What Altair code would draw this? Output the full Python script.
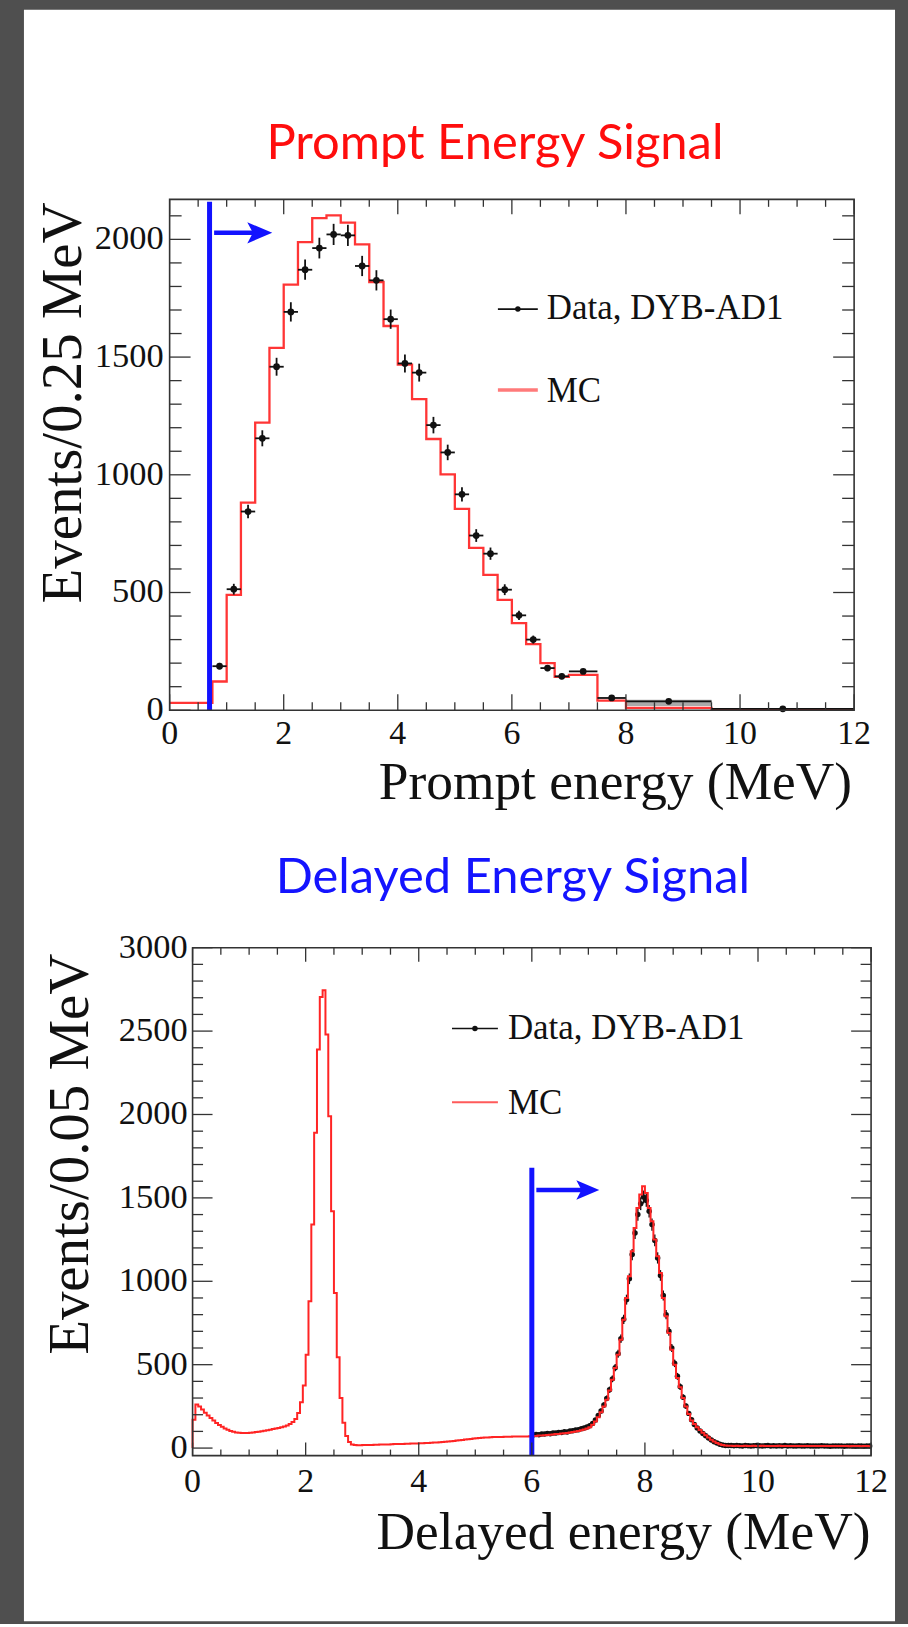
import altair as alt
import numpy as np
import pandas as pd

# ---------------------------------------------------------------------------
# Prompt energy spectrum (Events / 0.25 MeV, wider bins at high energy)
# ---------------------------------------------------------------------------
prompt_mc_edges = [0.0, 0.75, 1.0, 1.25, 1.5, 1.75, 2.0, 2.25, 2.5, 2.75, 3.0,
                   3.25, 3.5, 3.75, 4.0, 4.25, 4.5, 4.75, 5.0, 5.25, 5.5, 5.75,
                   6.0, 6.25, 6.5, 6.75, 7.0, 7.5, 8.0, 9.5, 12.0]
prompt_mc_counts = [31, 122, 490, 882, 1222, 1539, 1808, 1988, 2090, 2102,
                    2071, 1979, 1819, 1632, 1468, 1321, 1152, 1002, 855, 690,
                    575, 469, 370, 281, 200, 142, 150, 41, 10, 3]

prompt_data_edges = [0.75, 1.0, 1.25, 1.5, 1.75, 2.0, 2.25, 2.5, 2.75, 3.0,
                     3.25, 3.5, 3.75, 4.0, 4.25, 4.5, 4.75, 5.0, 5.25, 5.5,
                     5.75, 6.0, 6.25, 6.5, 6.75, 7.0, 7.5, 8.0, 9.5, 12.0]
prompt_data_counts = [187, 514, 844, 1155, 1459, 1692, 1871, 1963, 2021, 2017,
                      1887, 1826, 1661, 1473, 1434, 1211, 1095, 917, 742, 665,
                      512, 403, 300, 179, 144, 165, 52, 38, 6]
prompt_data_errors = [14, 23, 29, 34, 38, 41, 43, 44, 45, 45,
                      43, 43, 41, 38, 38, 35, 33, 30, 27, 26,
                      23, 20, 17, 13, 12, 9, 5, 3, 1]
prompt_band = {"lo": [8.0], "hi": [9.5], "bottom": [18], "top": [45]}

prompt_cut = 0.7
prompt_arrow = {"x0": 0.78, "x1": 1.58, "y": 2028}

# ---------------------------------------------------------------------------
# Delayed energy spectrum (Events / 0.05 MeV)
# ---------------------------------------------------------------------------
delayed_bin = 0.05
delayed_mc_counts = [
    170, 262, 250, 232, 212, 195, 180, 165, 150, 138, 128, 118, 110, 103, 98, 94, 92, 91, 90, 91,
    92, 94, 96, 98, 101, 104, 107, 110, 114, 117, 121, 125, 130, 136, 144, 156, 175, 210, 275, 375,
    560, 880, 1340, 1890, 2390, 2705, 2745, 2480, 1990, 1420, 930, 545, 300, 152, 72, 36, 22, 18, 17, 17,
    18, 18, 19, 19, 20, 20, 21, 21, 22, 22, 23, 24, 24, 25, 25, 26, 26, 27, 27, 28,
    29, 29, 30, 31, 32, 33, 34, 35, 37, 38, 40, 41, 43, 45, 47, 49, 51, 53, 55, 57,
    59, 61, 62, 63, 64, 65, 66, 66, 67, 67, 68, 68, 68, 69, 69, 69, 70, 70, 70, 71,
    72, 73, 75, 76, 77, 79, 80, 82, 84, 85, 87, 89, 91, 93, 96, 99, 103, 107, 112, 118,
    125, 140, 160, 185, 215, 250, 290, 345, 410, 480, 560, 650, 770, 900, 1030, 1180, 1320, 1440, 1520, 1570,
    1530, 1440, 1360, 1250, 1150, 1050, 900, 790, 690, 590, 500, 420, 365, 300, 250, 205, 165, 145, 125, 108,
    92, 77, 63, 50, 39, 30, 23, 18, 15, 14, 14, 13, 14, 13, 13, 14, 13, 13, 14, 13,
    13, 14, 13, 13, 12, 13, 13, 14, 13, 12, 13, 13, 12, 13, 13, 12, 13, 12, 13, 12,
    12, 13, 12, 12, 13, 12, 12, 12, 13, 12, 12, 12, 11, 12, 12, 12, 11, 12, 12, 11,
]
delayed_data_start = 6.0
delayed_data_counts = [
    78, 82, 80, 85, 84, 88, 86, 91, 90, 94, 93, 98, 97, 102, 104, 108, 110, 116, 120, 126,
    134, 148, 168, 196, 222, 258, 298, 350, 415, 482, 566, 655, 772, 890, 1015, 1160, 1290, 1400, 1465, 1505,
    1485, 1420, 1340, 1245, 1140, 1035, 915, 800, 700, 600, 508, 430, 368, 305, 252, 208, 170, 142, 120, 102,
    88, 74, 60, 48, 38, 30, 23, 19, 16, 15, 15, 14, 15, 14, 13, 15, 14, 13, 14, 15,
    14, 13, 14, 15, 13, 14, 12, 14, 13, 15, 13, 14, 12, 13, 14, 13, 12, 14, 13, 12,
    13, 12, 14, 12, 13, 11, 13, 12, 13, 12, 11, 13, 12, 12, 11, 13, 12, 11, 12, 12,
]
delayed_cut = 6.0
delayed_cut_top = 1680
delayed_arrow = {"x0": 6.08, "x1": 6.99, "y": 1547}

# axis ticks and their labels
x_major = [0, 2, 4, 6, 8, 10, 12]
x_minor = [0.5 * k for k in range(1, 24) if k % 4]
y1_major = [0, 500, 1000, 1500, 2000]
y1_minor = [100 * k for k in range(1, 22) if k % 5]
y2_major = [0, 500, 1000, 1500, 2000, 2500, 3000]
y2_minor = [100 * k for k in range(1, 30) if k % 5]

# ---------------------------------------------------------------------------
# styling
# ---------------------------------------------------------------------------
SERIF = "Liberation Serif"
SANS = "Lato"
INK = "#111111"
FRAME = "#333333"
MC_RED = "#ff3535"
CUT_BLUE = "#1212ff"
ARROW_HEAD = "M-1,-0.85L1,0L-1,0.85L-0.55,0Z"

W1, H1 = 686, 512
W2, H2 = 703, 509
X2_LEFT = 23

one = pd.DataFrame({"k": [0]})


def edge_ticks(values, scale, channel, start, end):
    base = alt.Chart(pd.DataFrame({"t": values})).mark_rule(color=FRAME, strokeWidth=1.3)
    if channel == "x":
        return base.encode(x=alt.X("t:Q", scale=scale, axis=None),
                           y=alt.value(start), y2=alt.value(end))
    return base.encode(y=alt.Y("t:Q", scale=scale, axis=None),
                       x=alt.value(start), x2=alt.value(end))


def frame_ticks(xs, ys, x_left, x_right, height, y_vals, xlen, ylen):
    (xmaj_b, xmin_b, xmaj_t, xmin_t) = xlen
    (ymaj, ymin) = ylen
    ymaj_vals, ymin_vals = y_vals
    return [
        edge_ticks(x_major, xs, "x", height, height - xmaj_b),
        edge_ticks(x_minor, xs, "x", height, height - xmin_b),
        edge_ticks(x_major, xs, "x", 0, xmaj_t),
        edge_ticks(x_minor, xs, "x", 0, xmin_t),
        edge_ticks(ymaj_vals, ys, "y", x_left, x_left + ymaj),
        edge_ticks(ymin_vals, ys, "y", x_left, x_left + ymin),
        edge_ticks(ymaj_vals, ys, "y", x_right, x_right - ymaj),
        edge_ticks(ymin_vals, ys, "y", x_right, x_right - ymin),
    ]


def axis_labels(xs, ys, y_values, x_label_y, y_label_x, x_title, x_title_pos,
                y_title, y_title_pos):
    """Tick labels and axis titles for one panel, placed through its scales."""
    xl = pd.DataFrame({"t": x_major, "s": [str(v) for v in x_major]})
    yl = pd.DataFrame({"t": y_values, "s": [str(v) for v in y_values]})
    return [
        alt.Chart(xl).mark_text(font=SERIF, fontSize=34, color=INK, align="center",
                                baseline="alphabetic").encode(
            x=alt.X("t:Q", scale=xs, axis=None), y=alt.value(x_label_y), text="s:N"),
        alt.Chart(yl).mark_text(font=SERIF, fontSize=34.5, color=INK, align="right",
                                baseline="middle").encode(
            y=alt.Y("t:Q", scale=ys, axis=None), x=alt.value(y_label_x), text="s:N"),
        alt.Chart(one).mark_text(text=x_title, font=SERIF, fontSize=53.5, color=INK,
                                 align="right", baseline="alphabetic").encode(
            x=alt.value(x_title_pos[0]), y=alt.value(x_title_pos[1])),
        alt.Chart(one).mark_text(text=y_title, font=SERIF, fontSize=57, color=INK,
                                 align="right", baseline="alphabetic", angle=270).encode(
            x=alt.value(y_title_pos[0]), y=alt.value(y_title_pos[1])),
    ]


def legend(x0, x1, y_data, y_mc, text_x, mc_color, mc_width):
    dot_x = (x0 + x1) / 2
    return [
        alt.Chart(one).mark_rule(color=INK, strokeWidth=1.6).encode(
            x=alt.value(x0), x2=alt.value(x1), y=alt.value(y_data)),
        alt.Chart(one).mark_point(filled=True, color=INK, size=30, opacity=1).encode(
            x=alt.value(dot_x), y=alt.value(y_data)),
        alt.Chart(one).mark_text(text="Data, DYB-AD1", font=SERIF, fontSize=35,
                                 align="left", baseline="alphabetic", color=INK).encode(
            x=alt.value(text_x), y=alt.value(y_data + 10)),
        alt.Chart(one).mark_rule(color=mc_color, strokeWidth=mc_width).encode(
            x=alt.value(x0), x2=alt.value(x1), y=alt.value(y_mc)),
        alt.Chart(one).mark_text(text="MC", font=SERIF, fontSize=35, align="left",
                                 baseline="alphabetic", color=INK).encode(
            x=alt.value(text_x), y=alt.value(y_mc + 12)),
    ]


# ---------------------------------------------------------------------------
# upper panel: prompt energy
# ---------------------------------------------------------------------------
xs1 = alt.Scale(domain=[0, 12], nice=False)
ys1 = alt.Scale(domain=[0, 2170], nice=False)

mc1 = pd.DataFrame({"e": prompt_mc_edges,
                    "c": prompt_mc_counts + [prompt_mc_counts[-1]]})
d1 = pd.DataFrame({"lo": prompt_data_edges[:-1], "hi": prompt_data_edges[1:],
                   "c": prompt_data_counts, "err": prompt_data_errors})
d1["x"] = (d1["lo"] + d1["hi"]) / 2
d1["ylo"] = d1["c"] - d1["err"]
d1["yhi"] = d1["c"] + d1["err"]

# white slide panel behind both plots
sheet = alt.Chart(one).mark_rect(color="white").encode(
    x=alt.value(-146), x2=alt.value(727), y=alt.value(-190), y2=alt.value(1425))

band1 = alt.Chart(pd.DataFrame(prompt_band)).mark_rect(color="#a9a9a9").encode(
    x=alt.X("lo:Q", scale=xs1, axis=None), x2="hi:Q",
    y=alt.Y("bottom:Q", scale=ys1, axis=None), y2="top:Q")

mc_line1 = alt.Chart(mc1).mark_line(interpolate="step-after", color=MC_RED,
                                    strokeWidth=2.3).encode(
    x=alt.X("e:Q", scale=xs1, axis=None),
    y=alt.Y("c:Q", scale=ys1, axis=None))

hbar1 = alt.Chart(d1).mark_rule(color=INK, strokeWidth=1.8).encode(
    x=alt.X("lo:Q", scale=xs1, axis=None), x2="hi:Q",
    y=alt.Y("c:Q", scale=ys1, axis=None))
vbar1 = alt.Chart(d1).mark_rule(color=INK, strokeWidth=1.8).encode(
    x=alt.X("x:Q", scale=xs1, axis=None),
    y=alt.Y("ylo:Q", scale=ys1, axis=None), y2="yhi:Q")
pts1 = alt.Chart(d1).mark_point(filled=True, color=INK, size=46, opacity=1).encode(
    x=alt.X("x:Q", scale=xs1, axis=None), y=alt.Y("c:Q", scale=ys1, axis=None))

cut1 = alt.Chart(pd.DataFrame({"x": [prompt_cut], "y0": [0], "y1": [2160]})).mark_rule(
    color=CUT_BLUE, strokeWidth=5).encode(
    x=alt.X("x:Q", scale=xs1, axis=None),
    y=alt.Y("y0:Q", scale=ys1, axis=None), y2="y1:Q")
arrow1_df = pd.DataFrame({k: [v] for k, v in prompt_arrow.items()})
shaft1 = alt.Chart(arrow1_df).mark_rule(color=CUT_BLUE, strokeWidth=4.5).encode(
    x=alt.X("x0:Q", scale=xs1, axis=None), x2="x1:Q",
    y=alt.Y("y:Q", scale=ys1, axis=None))
head1 = alt.Chart(arrow1_df).mark_point(shape=ARROW_HEAD, filled=True, color=CUT_BLUE,
                                        size=625, opacity=1, strokeWidth=0).encode(
    x=alt.X("x1:Q", scale=xs1, axis=None), y=alt.Y("y:Q", scale=ys1, axis=None))

frame1 = alt.Chart(one).mark_rect(fillOpacity=0, stroke=FRAME, strokeWidth=1.6).encode(
    x=alt.value(0), x2=alt.value(W1), y=alt.value(0), y2=alt.value(H1))

title1 = alt.Chart(one).mark_text(text="Prompt Energy Signal", font=SANS, fontSize=49,
                                  align="center", baseline="alphabetic",
                                  color="#ff0d0d").encode(
    x=alt.value(326), y=alt.value(-40))

top = alt.layer(
    sheet, band1, mc_line1, hbar1, vbar1, pts1, cut1, shaft1, head1,
    *legend(329, 369, 110, 191, 378, "#ff7a7a", 3.5),
    frame1,
    *frame_ticks(xs1, ys1, 0, W1, H1, (y1_major, y1_minor), (16, 8, 15, 7.5), (21, 12)),
    *axis_labels(xs1, ys1, y1_major, 546, -6, "Prompt energy (MeV)", (684, 601),
                 "Events/0.25 MeV", (-89, 3)),
    title1,
).properties(width=W1, height=H1)

# ---------------------------------------------------------------------------
# lower panel: delayed energy
# ---------------------------------------------------------------------------
xs2 = alt.Scale(domain=[0, 12], range=[X2_LEFT, W2], nice=False)
ys2 = alt.Scale(domain=[-45, 3000], nice=False)

mc2_edges = [round(i * delayed_bin, 3) for i in range(len(delayed_mc_counts) + 1)]
mc2 = pd.DataFrame({
    "e": [0.0] + mc2_edges,
    "c": [0] + delayed_mc_counts + [delayed_mc_counts[-1]],
})
mc2["i"] = range(len(mc2))

d2 = pd.DataFrame({"c": delayed_data_counts})
d2["x"] = [round(delayed_data_start + (i + 0.5) * delayed_bin, 3) for i in range(len(d2))]
d2["err"] = np.sqrt(d2["c"])
d2["ylo"] = d2["c"] - d2["err"]
d2["yhi"] = d2["c"] + d2["err"]

vbar2 = alt.Chart(d2).mark_rule(color=INK, strokeWidth=1.4).encode(
    x=alt.X("x:Q", scale=xs2, axis=None),
    y=alt.Y("ylo:Q", scale=ys2, axis=None), y2="yhi:Q")
pts2 = alt.Chart(d2).mark_point(filled=True, color=INK, size=30, opacity=1).encode(
    x=alt.X("x:Q", scale=xs2, axis=None), y=alt.Y("c:Q", scale=ys2, axis=None))

mc_line2 = alt.Chart(mc2).mark_line(interpolate="step-after", color="#ff2424",
                                    strokeWidth=2).encode(
    x=alt.X("e:Q", scale=xs2, axis=None),
    y=alt.Y("c:Q", scale=ys2, axis=None),
    order="i:Q")

cut2 = alt.Chart(pd.DataFrame({"x": [delayed_cut], "y0": [-45],
                               "y1": [delayed_cut_top]})).mark_rule(
    color=CUT_BLUE, strokeWidth=5).encode(
    x=alt.X("x:Q", scale=xs2, axis=None),
    y=alt.Y("y0:Q", scale=ys2, axis=None), y2="y1:Q")
arrow2_df = pd.DataFrame({k: [v] for k, v in delayed_arrow.items()})
shaft2 = alt.Chart(arrow2_df).mark_rule(color=CUT_BLUE, strokeWidth=4.5).encode(
    x=alt.X("x0:Q", scale=xs2, axis=None), x2="x1:Q",
    y=alt.Y("y:Q", scale=ys2, axis=None))
head2 = alt.Chart(arrow2_df).mark_point(shape=ARROW_HEAD, filled=True, color=CUT_BLUE,
                                        size=529, opacity=1, strokeWidth=0).encode(
    x=alt.X("x1:Q", scale=xs2, axis=None), y=alt.Y("y:Q", scale=ys2, axis=None))

frame2 = alt.Chart(one).mark_rect(fillOpacity=0, stroke=FRAME, strokeWidth=1.6).encode(
    x=alt.value(X2_LEFT), x2=alt.value(W2), y=alt.value(0), y2=alt.value(H2))

title2 = alt.Chart(one).mark_text(text="Delayed Energy Signal", font=SANS, fontSize=49,
                                  align="center", baseline="alphabetic",
                                  color="#1414ff").encode(
    x=alt.value(344), y=alt.value(-55))

bottom = alt.layer(
    vbar2, pts2, mc_line2, cut2, shaft2, head2,
    *legend(283, 329, 81, 155, 339, "#ff5a5a", 2),
    frame2,
    *frame_ticks(xs2, ys2, X2_LEFT, W2, H2, (y2_major, y2_minor), (13, 6, 14, 7), (20, 10.5)),
    *axis_labels(xs2, ys2, y2_major, 545, X2_LEFT - 5, "Delayed energy (MeV)",
                 (702.5, 603), "Events/0.05 MeV", (-82, 6)),
    title2,
).properties(width=W2, height=H2)

chart = alt.vconcat(top, bottom, spacing=238, bounds="flush").properties(
    padding={"left": 23, "top": 7, "right": 12, "bottom": 0},
    background="#4f4f4f",
).configure_view(stroke="transparent")

chart.save("out.html", embed_options={"renderer": "svg", "actions": False})
